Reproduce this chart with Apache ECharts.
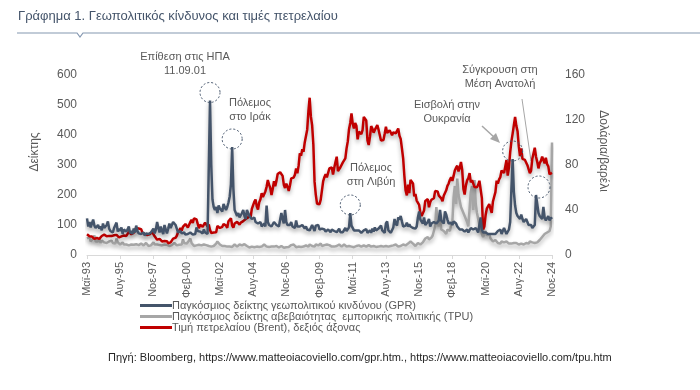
<!DOCTYPE html>
<html>
<head>
<meta charset="utf-8">
<script src="https://cdn.jsdelivr.net/npm/echarts@6/dist/echarts.min.js"></script>
<style>
html,body{margin:0;padding:0;background:#fff;}
#c{width:700px;height:390px;}
</style>
</head>
<body>
<div id="c"></div>
<script>
// Month names (Greek) and period May 1993 - Nov 2024 (monthly)
const monthNames = ['Ιαν','Φεβ','Μαρ','Απρ','Μαϊ','Ιουν','Ιουλ','Αυγ','Σεπ','Οκτ','Νοε','Δεκ'];
const startYear = 1993, startMonth = 4, endYear = 2024, endMonth = 10;

// Global geopolitical risk index (GPR), left axis
const gpr = [
122,95,110,92,105,118,98,90,
85,100,88,95,82,105,90,85,100,112,88,80,
82,75,90,95,108,78,88,80,92,70,85,90,
78,85,95,72,80,70,88,75,98,80,72,75,
70,68,75,65,72,68,70,65,75,80,88,72,
85,110,90,75,95,80,70,100,85,72,88,105,
90,85,110,115,100,88,75,70,80,72,70,75,
68,72,70,65,75,70,68,72,70,92,80,75,
78,80,72,85,75,72,70,68,515,300,185,160,
150,160,140,165,155,150,145,170,160,150,160,175,
195,235,360,220,150,140,130,140,125,130,140,150,
130,120,150,145,130,125,120,115,125,110,115,105,
100,110,95,100,105,95,165,110,100,105,95,100,
110,105,100,105,95,100,140,120,105,150,110,100,
105,100,110,95,100,90,115,95,100,95,90,100,
95,88,95,85,90,82,88,100,90,80,98,92,
100,85,80,88,92,85,78,80,85,80,76,85,
88,80,85,76,80,88,76,80,76,72,90,80,
85,92,140,98,100,82,78,82,86,82,78,74,
78,82,78,86,74,78,82,74,88,78,92,82,
78,88,92,98,82,78,74,105,112,82,78,74,
78,92,120,105,98,125,118,130,112,95,90,98,
108,95,102,95,98,90,85,88,95,125,145,118,
115,105,125,100,95,110,120,95,105,100,110,115,
105,100,115,150,115,110,105,145,135,118,105,100,
108,100,112,118,105,95,90,85,90,85,80,78,
80,85,75,80,90,95,85,80,90,85,75,80,
125,85,75,70,75,80,70,75,70,65,70,75,
70,75,80,75,85,70,75,90,80,70,75,85,
110,220,320,210,165,140,130,125,120,135,120,110,
115,120,110,100,95,100,90,95,100,200,170,140,
130,125,120,160,125,115,120,130,115,125,120
];

// Global trade policy uncertainty index (TPU), left axis
const tpu = [
55,50,60,45,50,55,65,45,
50,45,55,40,48,52,42,45,40,38,45,42,
48,40,45,38,55,42,40,35,38,42,35,38,
35,40,32,38,35,30,34,32,36,30,33,35,
38,35,32,36,40,34,30,35,32,38,42,35,
32,35,30,33,38,32,30,35,40,34,32,30,
35,33,38,40,35,32,30,34,38,35,52,40,
35,38,42,48,55,40,35,30,28,32,30,34,
30,32,28,35,30,33,28,30,26,28,32,30,
35,38,45,40,35,32,30,28,30,26,28,25,
28,30,27,32,35,30,28,26,35,30,32,34,
36,32,30,28,25,30,28,24,26,30,28,25,
27,30,28,32,35,30,28,25,27,26,28,30,
28,32,30,28,25,27,30,26,24,28,26,25,
27,30,33,28,35,30,26,25,28,30,27,25,
28,30,32,30,28,35,38,30,32,28,35,30,
32,35,38,30,35,33,30,35,40,33,30,28,
30,28,32,30,27,35,30,28,33,35,30,28,
27,30,25,28,30,26,28,30,27,32,30,28,
30,32,35,28,30,33,30,28,32,30,28,27,
30,28,25,30,32,28,26,30,33,28,27,30,
28,32,30,35,30,28,32,30,28,35,30,32,
35,38,32,45,40,38,35,30,33,40,42,35,
38,42,48,55,50,60,52,48,58,65,80,95,
160,110,95,120,85,90,80,75,70,85,90,80,
100,110,190,230,170,255,200,180,160,150,140,130,
120,110,95,100,210,230,150,250,170,140,120,100,
95,70,60,55,80,65,60,70,55,50,45,48,
50,45,40,42,38,45,40,42,38,45,40,38,
35,38,42,40,45,40,38,35,40,38,42,35,
38,40,42,38,45,40,42,38,40,45,42,48,
50,55,60,65,70,65,75,70,80,95,375
];

// Brent oil price, USD/barrel, right axis
const brent = [
18.5,17.0,16.7,16.7,16.4,16.6,14.3,13.6,
15.1,13.8,14.3,16.0,16.9,17.9,18.1,16.5,16.6,16.9,17.0,16.3,
16.8,17.0,17.5,19.1,17.9,16.7,15.6,16.6,16.6,16.5,17.4,19.0,
16.9,18.6,20.6,19.8,18.4,19.4,19.8,21.5,24.1,23.8,23.6,23.9,
23.0,20.1,19.8,18.3,19.3,17.8,19.1,18.4,19.8,20.3,18.6,16.6,
15.2,13.6,13.6,14.4,14.4,12.1,11.6,12.4,13.5,12.3,10.5,10.0,
11.2,10.9,14.6,16.3,15.3,17.1,20.2,20.7,23.9,21.6,25.0,25.4,
27.6,29.1,24.4,23.7,29.4,31.3,28.5,32.6,31.7,31.6,32.5,23.8,
27.0,27.0,25.0,27.0,28.8,27.0,25.2,27.2,22.2,19.5,18.9,20.0,
19.4,20.2,25.7,26.0,24.0,24.7,25.1,27.5,28.4,26.1,24.2,30.0,
31.0,32.6,26.2,24.4,28.0,27.8,29.4,29.7,27.0,28.8,29.1,30.1,
30.8,32.0,33.1,33.4,36.2,33.6,41.0,40.2,47.2,49.3,43.3,40.5,
46.8,49.6,55.0,51.6,52.6,56.5,60.6,66.6,62.5,59.4,53.4,58.9,
65.6,61.1,65.9,72.0,70.9,73.6,75.0,70.3,62.5,59.6,63.4,60.9,
57.0,61.8,68.1,66.9,68.8,71.4,77.0,72.7,79.2,90.4,88.3,93.9,
91.8,100.1,100.3,111.4,127.8,139.8,123.0,115.5,98.2,65.0,53.5,45.6,
45.9,45.2,49.2,50.6,65.6,69.3,71.7,69.0,69.1,76.9,78.5,77.9,
71.5,77.6,82.7,87.4,74.6,75.0,78.0,76.9,82.3,83.2,85.9,94.8,
101.0,111.8,117.4,125.9,116.7,112.5,117.4,114.9,102.8,109.6,110.5,107.4,
110.9,122.7,122.9,119.5,101.9,97.8,104.9,114.6,112.4,108.7,111.2,111.1,
115.6,111.4,110.0,101.7,100.4,102.2,107.7,114.0,108.4,108.8,110.9,110.8,
106.4,109.1,107.8,108.1,109.4,112.4,106.0,103.2,94.7,85.9,70.2,57.3,
53.0,62.6,55.1,66.8,65.6,63.6,52.2,54.2,48.4,49.6,44.6,37.3,
34.7,36.0,39.6,48.1,49.7,49.7,42.5,47.0,49.1,48.3,50.5,56.8,
55.7,56.5,52.8,51.7,50.3,47.9,52.7,52.4,57.5,61.4,63.6,66.9,
69.1,65.8,70.3,75.2,77.6,79.4,74.3,77.4,82.7,75.5,58.7,53.8,
61.9,66.3,68.4,72.8,64.5,66.6,65.2,60.4,60.8,60.2,62.4,66.0,
58.2,50.5,22.7,25.3,35.3,41.2,43.3,45.3,40.9,37.5,47.6,51.8,
55.9,66.1,63.5,67.3,69.3,75.1,76.3,72.9,78.5,84.4,70.6,77.8,
91.2,101.0,107.9,109.3,122.8,114.8,110.0,96.5,88.0,94.8,85.4,85.9,
84.5,83.9,79.8,79.5,72.7,74.9,85.6,86.9,95.3,87.4,82.8,77.0,
81.7,83.6,87.5,87.9,81.6,86.4,80.7,78.8,71.8,73.2,72.9
];

// Left axis ticks 0..600 step 100, right axis 0..160 step 40
const leftTicks = [0,100,200,300,400,500,600];
const rightTicks = [0,40,80,120,160];

// Build categories "Μαϊ-93" ...
const categories = [];
for (let y = startYear; y <= endYear; y++) {
  const m0 = (y === startYear) ? startMonth : 0;
  const m1 = (y === endYear) ? endMonth : 11;
  for (let m = m0; m <= m1; m++) {
    categories.push(monthNames[m] + '-' + String(y % 100).padStart(2, '0'));
  }
}

// Annotated events
const events = ['Σεπ-01', 'Μαρ-03', 'Μαρ-11', 'Μαρ-22', 'Οκτ-23'];

const FONT = '"Liberation Sans", Arial, sans-serif';
const GREY = '#595959';

const chart = echarts.init(document.getElementById('c'), null, {renderer: 'canvas'});

const shadow = {shadowColor: 'rgba(0,0,0,0.30)', shadowBlur: 4, shadowOffsetY: 3};

const option = {
  animation: false,
  textStyle: {fontFamily: FONT},
  grid: {left: 87, right: 148, top: 75, bottom: 135},
  legend: {
    orient: 'vertical', left: 135, top: 295, itemGap: 0, padding: 5,
    itemWidth: 32, itemHeight: 3, icon: 'rect',
    data: ['Παγκόσμιος δείκτης γεωπολιτικού κινδύνου (GPR)',
           'Παγκόσμιος δείκτης αβεβαιότητας  εμπορικής πολιτικής (TPU)',
           'Τιμή πετρελαίου (Brent), δεξιός άξονας'],
    textStyle: {fontSize: 11, color: GREY, fontFamily: FONT, lineHeight: 9, padding: [0,0,0,-5]}
  },
  xAxis: {
    type: 'category', data: categories, boundaryGap: false,
    axisLine: {lineStyle: {color: '#d9d9d9', width: 1}},
    axisTick: {interval: 26, length: 4, lineStyle: {color: '#d9d9d9'}},
    axisLabel: {interval: 26, rotate: 90, color: GREY, fontSize: 11, fontFamily: FONT, margin: 7}
  },
  yAxis: [
    {type: 'value', min: leftTicks[0], max: leftTicks[leftTicks.length-1], interval: 100,
     axisLine: {show: false}, axisTick: {show: false}, splitLine: {show: false},
     axisLabel: {color: GREY, fontSize: 12, fontFamily: FONT, margin: 10}},
    {type: 'value', min: rightTicks[0], max: rightTicks[rightTicks.length-1], interval: 40,
     position: 'right',
     axisLine: {show: false}, axisTick: {show: false}, splitLine: {show: false},
     axisLabel: {color: GREY, fontSize: 12, fontFamily: FONT, margin: 13}}
  ],
  series: [
    {name: 'Παγκόσμιος δείκτης αβεβαιότητας  εμπορικής πολιτικής (TPU)', type: 'line', data: tpu,
     yAxisIndex: 0, symbol: 'none', color: '#a6a6a6',
     lineStyle: Object.assign({width: 2.5, color: '#a6a6a6'}, shadow)},
    {name: 'Τιμή πετρελαίου (Brent), δεξιός άξονας', type: 'line', data: brent,
     yAxisIndex: 1, symbol: 'none', color: '#c00000',
     lineStyle: Object.assign({width: 2.5, color: '#c00000'}, shadow)},
    {name: 'Παγκόσμιος δείκτης γεωπολιτικού κινδύνου (GPR)', type: 'line', data: gpr,
     yAxisIndex: 0, symbol: 'none', color: '#44546a',
     lineStyle: Object.assign({width: 2.5, color: '#44546a'}, shadow),
     markPoint: {
       silent: true, symbol: 'circle', symbolSize: 20,
       label: {show: false},
       itemStyle: {color: 'rgba(0,0,0,0)', borderColor: '#44546a', borderWidth: 1, borderType: [2, 2]},
       data: events.map(function (c, k) {
         const i = categories.indexOf(c);
         return {coord: [c, gpr[i]], symbolOffset: [k === 4 ? 3 : 0, -8], symbolSize: k === 4 ? 22 : 20};
       })
     }}
  ],
  graphic: [
    {type: 'text', left: 18, top: 10, style: {text: 'Γράφημα 1. Γεωπολιτικός κίνδυνος και τιμές πετρελαίου', font: '13px ' + FONT, fill: '#44546a'}},
    {type: 'polyline', shape: {points: [[17, 33], [77, 33], [80, 37], [83, 33], [700, 33]]}, style: {stroke: '#8497b0', lineWidth: 1.2, fill: null}},
    {type: 'text', x: 35, y: 152, rotation: Math.PI / 2, style: {text: 'Δείκτης', font: '12px ' + FONT, fill: GREY, textAlign: 'center', textVerticalAlign: 'middle'}},
    {type: 'text', x: 603, y: 151, rotation: -Math.PI / 2, style: {text: 'Δολάρια/βαρέλι', font: '12px ' + FONT, fill: GREY, textAlign: 'center', textVerticalAlign: 'middle'}},
    {type: 'text', x: 185, y: 50, style: {text: 'Επίθεση στις ΗΠΑ\n11.09.01', font: '11px ' + FONT, fill: GREY, textAlign: 'center', lineHeight: 14}},
    {type: 'text', x: 250, y: 96, style: {text: 'Πόλεμος\nστο Ιράκ', font: '11px ' + FONT, fill: GREY, textAlign: 'center', lineHeight: 14}},
    {type: 'text', x: 371, y: 161, style: {text: 'Πόλεμος\nστη Λιβύη', font: '11px ' + FONT, fill: GREY, textAlign: 'center', lineHeight: 14}},
    {type: 'text', x: 447, y: 98, style: {text: 'Εισβολή στην\nΟυκρανία', font: '11px ' + FONT, fill: GREY, textAlign: 'center', lineHeight: 14}},
    {type: 'text', x: 500, y: 63, style: {text: 'Σύγκρουση στη\nΜέση Ανατολή', font: '11px ' + FONT, fill: GREY, textAlign: 'center', lineHeight: 14}},
    {type: 'line', shape: {x1: 482, y1: 126, x2: 495, y2: 138}, style: {stroke: '#a6a6a6', lineWidth: 1.5}},
    {type: 'polygon', shape: {points: [[500, 143], [490, 139], [496, 133]]}, style: {fill: '#a6a6a6'}},
    {type: 'line', shape: {x1: 522, y1: 99, x2: 531, y2: 161}, style: {stroke: '#a6a6a6', lineWidth: 1}},
    {type: 'text', x: 108, y: 352, style: {text: 'Πηγή: Bloomberg, https://www.matteoiacoviello.com/gpr.htm., https://www.matteoiacoviello.com/tpu.htm', font: '11px ' + FONT, fill: '#262626'}}
  ]
};
chart.setOption(option);
</script>
</body>
</html>
